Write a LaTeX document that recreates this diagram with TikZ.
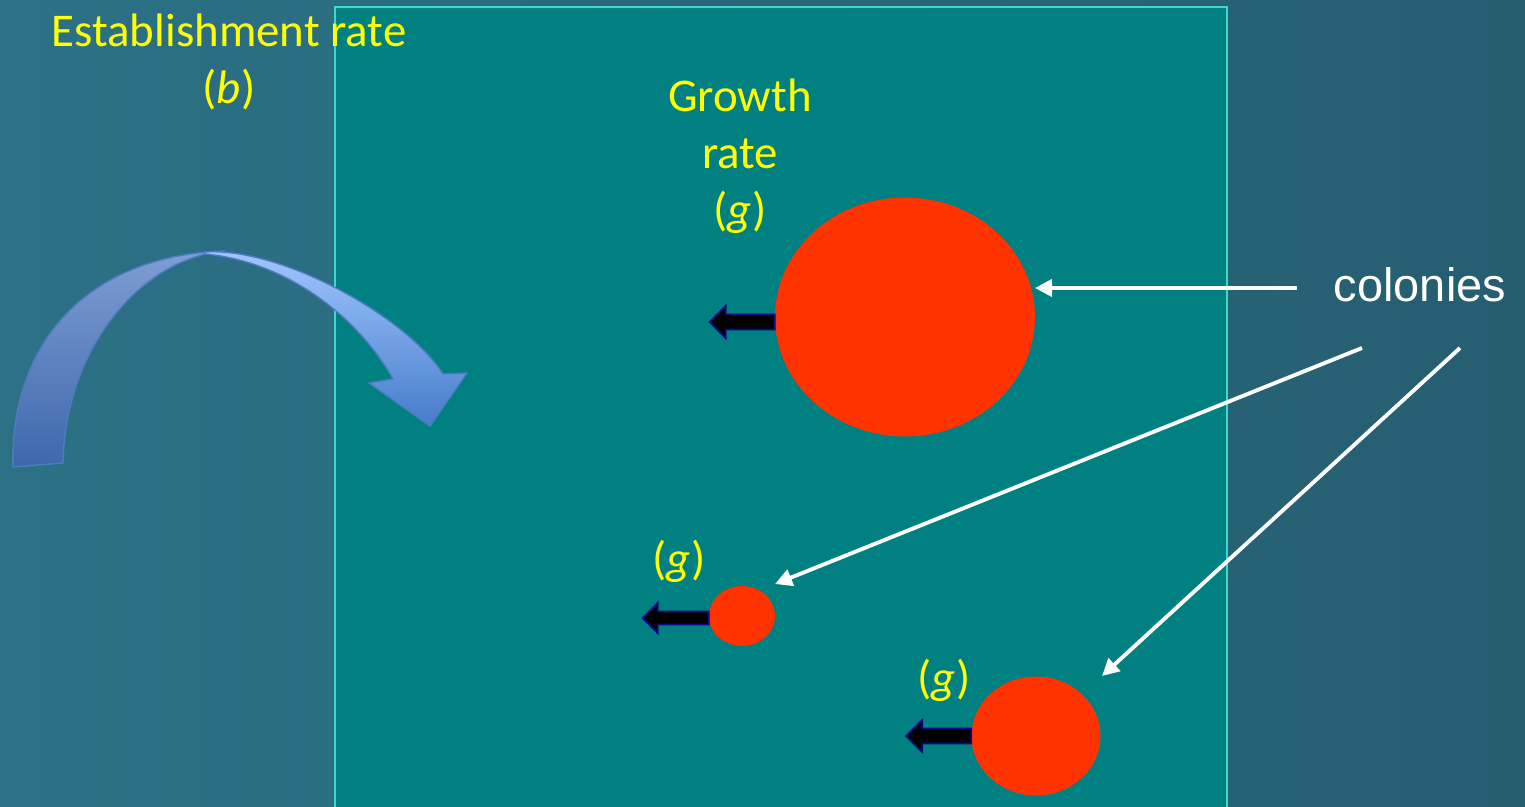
\documentclass[tikz,border=0pt]{standalone}
\usepackage{fontspec}
\setmainfont{Carlito}
\newfontfamily\arialfont{Liberation Sans}
\usetikzlibrary{arrows.meta,shapes.geometric,calc}

\definecolor{bgleft}{HTML}{2C7186}
\definecolor{bgright}{HTML}{265E70}
\definecolor{plotteal}{HTML}{008080}
\definecolor{plotedge}{HTML}{3FD6CF}
\definecolor{colonyred}{HTML}{FF3300}
\definecolor{ratetext}{HTML}{FFFF00}
\definecolor{arcedge}{HTML}{4D7DC0}
\definecolor{arcltop}{HTML}{7F9DD3}
\definecolor{arclbot}{HTML}{3D68AC}
\definecolor{arcrtop}{HTML}{A3C7FF}
\definecolor{arcrbot}{HTML}{467CCB}
\definecolor{growedge}{HTML}{0A0A8C}

\begin{document}
\begin{tikzpicture}[x=0.02cm, y=-0.02cm,
    colony/.style={ellipse, fill=colonyred, inner sep=0pt},
    rate/.style={text=ratetext, align=center,
      font=\fontsize{26.7}{32.3}\selectfont},
    pointer/.style={-{Triangle[length=3.4mm, width=3.4mm]}, white,
      line width=2.2pt},
    growbar/.style={fill=black, draw=growedge, line width=1pt},
    arcpart/.style={draw=arcedge, line width=0.8pt}
]
\useasboundingbox (0,0) rectangle (1525,807);

% --- Fondo y parcela ---
\fill[left color=bgleft, right color=bgright] (0,0) rectangle (1525,807);
\fill[plotteal] (335,7) rectangle (1227,807);
\draw[plotedge, line width=1.2pt] (335,807) -- (335,7) -- (1227,7) -- (1227,807);

% --- Flecha curva de establecimiento ---
\shade[arcpart, top color=arcltop, bottom color=arclbot]
  (13,467) .. controls (10,340) and (90,255) .. (225,251)
  .. controls (140,258) and (65,350) .. (63,463) -- cycle;
\shade[arcpart, top color=arcrtop, bottom color=arcrbot]
  (205,252) .. controls (280,247) and (405,315) .. (443,374)
  -- (467,373) -- (430,426) -- (369,383) -- (393,379)
  .. controls (360,320) and (290,262) .. (205,254) -- cycle;

% --- Colonias ---
\node[colony, minimum width=5.2cm, minimum height=4.78cm] (big) at (905,317) {};
\node[colony, minimum width=1.32cm, minimum height=1.2cm] (small) at (742,616) {};
\node[colony, minimum width=2.58cm, minimum height=2.38cm] (mid) at (1036,736) {};

% --- Flechas de crecimiento ---
\draw[growbar] ([yshift=-0.1cm]big.west) ++(0,-7.5) -- ++(-49,0) -- ++(0,-8.5)
  -- ++(-16,16) -- ++(16,16) -- ++(0,-8.5) -- ++(49,0) -- cycle;
\draw[growbar] ([yshift=-0.04cm]small.west) ++(0,-6.5) -- ++(-51,0) -- ++(0,-8.5)
  -- ++(-15,15) -- ++(15,15) -- ++(0,-8.5) -- ++(51,0) -- cycle;
\draw[growbar] (mid.west) ++(0,-7.5) -- ++(-49,0) -- ++(0,-8.5)
  -- ++(-16,16) -- ++(16,16) -- ++(0,-8.5) -- ++(49,0) -- cycle;

% --- Etiquetas ---
\node[rate] (estab) at (229,62) {Establishment rate\\(\textit{b})};
\node[rate] (growth) at (740,156) {Growth\\rate\\(\textit{g})};
\node[rate] (gsmall) at (679,561) {(\textit{g})};
\node[rate] (gmid) at (944,680) {(\textit{g})};
\node[text=white, font=\arialfont\fontsize{26.7}{32}\selectfont] (colonies)
  at (1420,285) {colonies};

% --- Flechas hacia las colonias ---
\coordinate (p1) at (1297,288);
\coordinate (p2) at (1362,348);
\coordinate (p3) at (1460,348);
\coordinate (e1) at (1035,288);
\coordinate (e2) at (775,584);
\coordinate (e3) at (1102,676);
\draw[pointer] (p1) -- (e1);
\draw[pointer] (p2) -- (e2);
\draw[pointer] (p3) -- (e3);
\end{tikzpicture}
\end{document}
